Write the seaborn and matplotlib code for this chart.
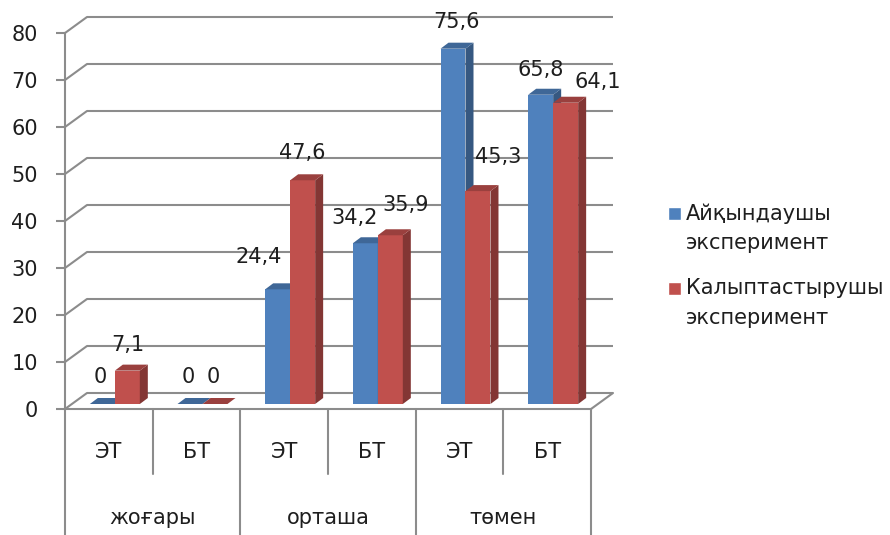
import matplotlib
matplotlib.use('Agg')
import matplotlib.pyplot as plt
from matplotlib.patches import Polygon, Patch, Rectangle
from matplotlib.legend_handler import HandlerPatch
import seaborn as sns
import pandas as pd

# ---- data ----
levels = ['жоғары', 'орташа', 'төмен']
subgroups = ['ЭТ', 'БТ']
series_names = ['Айқындаушы эксперимент', 'Калыптастырушы эксперимент']
legend_labels = ['Айқындаушы\nэксперимент', 'Калыптастырушы\nэксперимент']
ayqyndaushy = [0, 0, 24.4, 34.2, 75.6, 65.8]
kalyptastyrushy = [7.1, 0, 47.6, 35.9, 45.3, 64.1]
yticks = [0, 10, 20, 30, 40, 50, 60, 70, 80]

# label placement nudges (pixels) per series -- style only
label_dx = [[-2, -2, -19, -11, 3, 0], [0, -2, 0, 15, 20, 32]]
label_dy = [[0, 0, 5, -2, 0, -2], [-1, 0, 0, 3, 7, -6]]

BLUE = '#4F81BD'
RED = '#C0504D'
GRID = '#8C8C8C'
TXT = '#1E1E1E'
FS = 15

cats = [f'{l}|{s}' for l in levels for s in subgroups]
rows = []
for name, vals in zip(series_names, [ayqyndaushy, kalyptastyrushy]):
    for c, v in zip(cats, vals):
        rows.append({'cat': c, 'series': name, 'value': v})
df = pd.DataFrame(rows)

sns.set_theme(style='white')
plt.rcParams['font.family'] = ['DejaVu Sans']

fig = plt.figure(figsize=(8.9, 5.35), dpi=100)
ax = fig.add_axes([65 / 890, 126 / 535, 526 / 890, 376 / 535])
sns.barplot(data=df, x='cat', y='value', hue='series', order=cats,
            hue_order=series_names, palette=[BLUE, RED], width=0.57,
            saturation=1, ax=ax, legend=False, linewidth=0, edgecolor='none')
ax.set_xlim(-0.5, 5.5)
ax.set_ylim(0, 80)
ax.set_xlabel('')
ax.set_ylabel('')

pxx = ax.transData.transform((1, 0))[0] - ax.transData.transform((0, 0))[0]
pxy = ax.transData.transform((0, 1))[1] - ax.transData.transform((0, 0))[1]

# 3D-like offsets in pixels
fx, fy = 6 / pxx, 5 / pxy         # bar front plane offset
dx, dy = 8 / pxx, 6 / pxy         # bar depth
bdx, bdy = 22 / pxx, 16 / pxy     # back wall offset

def shade(c, f):
    return tuple(min(1, ch * f) for ch in c[:3])

# back wall grid + diagonals
for t in yticks:
    ax.plot([-0.5 + bdx, 5.5 + bdx], [t + bdy, t + bdy], color=GRID, lw=1.5,
            zorder=1, clip_on=False, solid_capstyle='butt')
    ax.plot([-0.5, -0.5 + bdx], [t, t + bdy], color=GRID, lw=1.5,
            zorder=1, clip_on=False)
ax.plot([5.5, 5.5 + bdx], [0, bdy], color=GRID, lw=1.5, zorder=1, clip_on=False)

# bars with 3D faces
all_bars = []
for si, cont in enumerate(ax.containers):
    for ci, bar in enumerate(cont):
        all_bars.append((si, ci, bar))
all_bars.sort(key=lambda b: b[2].get_x())
for rank, (si, ci, p) in enumerate(all_bars):
    z = 3 + rank * 0.01
    x0 = p.get_x() + fx
    w = p.get_width()
    h = p.get_height()
    y0 = fy
    p.set_x(x0)
    p.set_y(y0)
    p.set_zorder(z)
    p.set_clip_on(False)
    fc = p.get_facecolor()
    side = Polygon([(x0 + w, y0), (x0 + w, y0 + h), (x0 + w + dx, y0 + h + dy),
                    (x0 + w + dx, y0 + dy)], closed=True,
                   facecolor=shade(fc, 0.68), edgecolor='none', zorder=z, clip_on=False)
    top = Polygon([(x0, y0 + h), (x0 + w, y0 + h), (x0 + w + dx, y0 + h + dy),
                   (x0 + dx, y0 + h + dy)], closed=True,
                  facecolor=shade(fc, 0.8), edgecolor='none', zorder=z, clip_on=False)
    ax.add_patch(side)
    ax.add_patch(top)
    txt = f'{h:g}'.replace('.', ',')
    ax.annotate(txt, xy=(x0 + w / 2, y0 + h),
                xytext=(label_dx[si][ci], 27 + label_dy[si][ci]),
                textcoords='offset pixels', ha='center', va='center',
                fontsize=FS, color=TXT, zorder=10, annotation_clip=False)

# axes styling
for s in ['top', 'right']:
    ax.spines[s].set_visible(False)
for s in ['left', 'bottom']:
    ax.spines[s].set_color(GRID)
    ax.spines[s].set_linewidth(1.5)
ax.set_yticks(yticks)
ax.set_yticklabels([str(t) for t in yticks])
ax.tick_params(axis='y', left=True, length=6.5, width=1.5, color=GRID, pad=13,
               labelsize=FS, labelcolor=TXT)
ax.set_xticks(range(len(cats)))
ax.set_xticklabels([])
ax.tick_params(axis='x', bottom=False, length=0)

# two-level category axis
xt = ax.get_xaxis_transform()
for i, c in enumerate(cats):
    ax.text(i, -0.114, c.split('|')[1], transform=xt, ha='center', va='center',
            fontsize=FS, color=TXT, clip_on=False)
for g, lvl in enumerate(levels):
    ax.text(2 * g + 0.5, -0.29, lvl, transform=xt, ha='center', va='center',
            fontsize=FS, color=TXT, clip_on=False)
for xb in [-0.5, 1.5, 3.5, 5.5]:
    ax.plot([xb, xb], [0, -0.34], transform=xt, color=GRID, lw=1.5, clip_on=False)
for xb in [0.5, 2.5, 4.5]:
    ax.plot([xb, xb], [0, -0.173], transform=xt, color=GRID, lw=1.5, clip_on=False)

# legend: square aligned with first line of each two-line label
SQ = 9.4          # square side, points
LINE_D = 22.3     # distance between label lines, points

def first_line_square(legend=None, orig_handle=None, xdescent=0, ydescent=0,
                      width=0, height=0, **kw):
    cy = 0.35 * FS + LINE_D / 2
    return Rectangle((-xdescent, cy - SQ / 2), SQ, SQ)

handles = [Patch(facecolor=BLUE, label=legend_labels[0]),
           Patch(facecolor=RED, label=legend_labels[1])]
leg = fig.legend(handles=handles, loc='upper left',
                 bbox_to_anchor=(668 / 890, 1 - 203 / 535),
                 frameon=False, fontsize=FS, handlelength=SQ / FS,
                 handletextpad=0.24, labelspacing=1.19, borderpad=0,
                 borderaxespad=0,
                 handler_map={Patch: HandlerPatch(patch_func=first_line_square)})
for t in leg.get_texts():
    t.set_linespacing(1.62)
    t.set_color(TXT)

fig.savefig('out.png', dpi=100, facecolor='white')
